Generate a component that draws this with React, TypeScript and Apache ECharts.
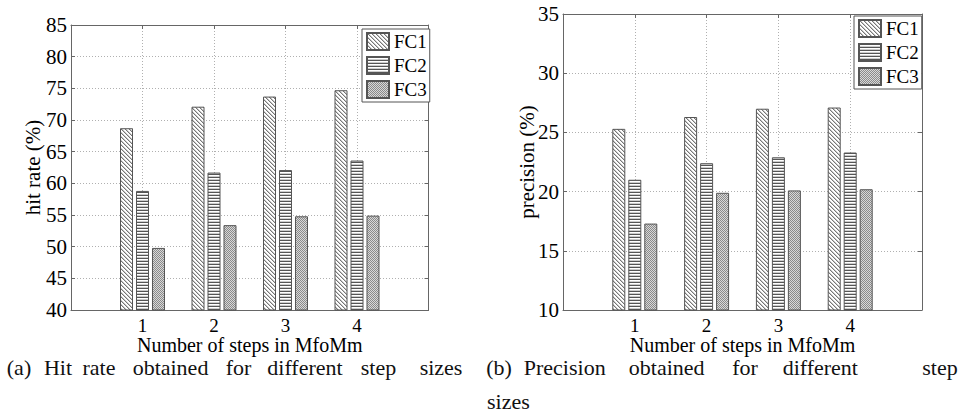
import React, { useEffect, useRef } from "react";
import * as echarts from "echarts";

const categories = ["1", "2", "3", "4"];
const seriesNames = ["FC1", "FC2", "FC3"];
const hitFC1 = [68.7, 72.1, 73.7, 74.7];
const hitFC2 = [58.8, 61.7, 62.1, 63.6];
const hitFC3 = [49.8, 53.4, 54.8, 54.9];
const precFC1 = [25.3, 26.3, 27.0, 27.1];
const precFC2 = [21.0, 22.4, 22.9, 23.3];
const precFC3 = [17.3, 19.9, 20.1, 20.2];
const hitTicks = { min: 40, max: 85, interval: 5 };
const precTicks = { min: 10, max: 35, interval: 5 };
const xTitle = "Number of steps in MfoMm";
const hitTitle = "hit rate (%)";
const precTitle = "precision (%)";
const captionA = ["(a)", "Hit", "rate", "obtained", "for", "different", "step", "sizes"];
const captionB = ["(b)", "Precision", "obtained", "for", "different", "step", "sizes"];

const SERIF = "Liberation Serif";

function makePattern(kind: string) {
  const c = document.createElement("canvas");
  const ctx = c.getContext("2d")!;
  const px = (x: number, y: number, col: string) => {
    ctx.fillStyle = col;
    ctx.fillRect(x, y, 1, 1);
  };
  if (kind === "diag") {
    c.width = 4; c.height = 4;
    ctx.fillStyle = "#ffffff"; ctx.fillRect(0, 0, 4, 4);
    for (let i = 0; i < 4; i++) {
      px(i, i, "#777777");
      px((i + 1) % 4, i, "#c8c8c8");
    }
  } else if (kind === "horiz") {
    c.width = 4; c.height = 3;
    ctx.fillStyle = "#ffffff"; ctx.fillRect(0, 0, 4, 3);
    ctx.fillStyle = "#555555"; ctx.fillRect(0, 0, 4, 1);
    ctx.fillStyle = "#cccccc"; ctx.fillRect(0, 2, 4, 1);
  } else {
    c.width = 2; c.height = 2;
    px(0, 0, "#8a8a8a"); px(1, 1, "#8a8a8a");
    px(1, 0, "#d8d8d8"); px(0, 1, "#d8d8d8");
  }
  return { image: c.toDataURL(), imageWidth: c.width, imageHeight: c.height, repeat: "repeat" };
}

export default function App() {
  const ref = useRef<HTMLDivElement>(null);
  useEffect(() => {
    if (!ref.current) return;
    const chart = echarts.init(ref.current, null, { renderer: "svg" });
    const patterns = [makePattern("diag"), makePattern("horiz"), makePattern("dots")];
    const padded = ["", ...categories, " "];
    const pad = (arr: number[]) => [null, ...arr, null];
    const axisCol = "#666";
    const gridLine = { show: true, interval: 0, lineStyle: { color: "#b0b0b0", type: [1, 2] as any, width: 1 } };

    const mkX = (gridIndex: number) => [
      {
        type: "category", gridIndex, data: padded, boundaryGap: false, position: "bottom",
        axisLine: { show: true, lineStyle: { color: axisCol } },
        axisTick: { show: true, inside: true, length: 4, interval: 0, lineStyle: { color: axisCol } },
        axisLabel: { interval: 0, fontSize: 19, fontFamily: SERIF, color: "#000", margin: 6, lineHeight: 18 },
        splitLine: gridLine,
        name: xTitle, nameLocation: "middle", nameGap: 25, nameMoveOverlap: false,
        nameTextStyle: { fontSize: 20, fontFamily: SERIF, color: "#000", lineHeight: 19 },
      },
      {
        type: "category", gridIndex, data: padded, boundaryGap: false, position: "top",
        axisLine: { show: true, lineStyle: { color: axisCol } },
        axisTick: { show: true, inside: true, length: 4, interval: 0, lineStyle: { color: axisCol } },
        axisLabel: { show: false }, splitLine: { show: false },
      },
    ];
    const mkY = (gridIndex: number, t: any, name: string, gap: number) => [
      {
        type: "value", gridIndex, min: t.min, max: t.max, interval: t.interval, position: "left",
        axisLine: { show: true, lineStyle: { color: axisCol } },
        axisTick: { show: true, inside: true, length: 4, lineStyle: { color: axisCol } },
        axisLabel: { fontSize: 21, fontFamily: SERIF, color: "#000", margin: 4 },
        splitLine: gridLine,
        name, nameLocation: "middle", nameGap: gap, nameRotate: 90, nameMoveOverlap: false,
        nameTextStyle: { fontSize: 21, fontFamily: SERIF, color: "#000" },
      },
      {
        type: "value", gridIndex, min: t.min, max: t.max, interval: t.interval, position: "right",
        axisLine: { show: true, lineStyle: { color: axisCol } },
        axisTick: { show: true, inside: true, length: 4, lineStyle: { color: axisCol } },
        axisLabel: { show: false }, splitLine: { show: false },
      },
    ];

    const mkSeries = (data: number[][], xIdx: number, yIdx: number) =>
      data.map((d, i) => ({
        type: "bar", name: seriesNames[i], xAxisIndex: xIdx, yAxisIndex: yIdx,
        data: pad(d), barWidth: 13, barGap: "23%",
        itemStyle: { color: patterns[i] as any, borderColor: "#555", borderWidth: 1 },
      }));

    const mkLegend = (left: number, top: number) => ({
      orient: "vertical", left, top, data: seriesNames, selectedMode: false,
      itemWidth: 22, itemHeight: 17, itemGap: 5, padding: [3, 3, 3, 4],
      borderColor: "#555", borderWidth: 1, backgroundColor: "#fff",
      icon: "rect",
      textStyle: { fontSize: 19, fontFamily: SERIF, color: "#000", lineHeight: 17 },
    });

    const capA = [19, 58, 99, 170.5, 238.5, 305, 378.5, 441];
    const capB = [499, 564.7, 666.7, 745, 820.3, 940];
    const words: any[] = [];
    const capStyle = (text: string, align: string) => ({
      text, fontSize: 22, fontFamily: SERIF, fill: "#111", align, verticalAlign: "middle",
    });
    captionA.forEach((w, i) => words.push({ type: "text", x: capA[i], y: 367, style: capStyle(w, "center") }));
    captionB.slice(0, 6).forEach((w, i) => words.push({ type: "text", x: capB[i], y: 367, style: capStyle(w, "center") }));
    words.push({ type: "text", x: 487, y: 401, style: capStyle(captionB[6], "left") });

    chart.setOption({
      animation: false,
      backgroundColor: "#fff",
      grid: [
        { left: 71, top: 25, width: 357.5, height: 285 },
        { left: 563, top: 14, width: 359, height: 296 },
      ],
      xAxis: [...mkX(0), ...mkX(1)],
      yAxis: [...mkY(0, hitTicks, hitTitle, 28), ...mkY(1, precTicks, precTitle, 26)],
      legend: [mkLegend(362, 29), mkLegend(854, 16)],
      series: [
        ...mkSeries([hitFC1, hitFC2, hitFC3], 0, 0),
        ...mkSeries([precFC1, precFC2, precFC3], 2, 2),
      ],
      graphic: words,
    } as any);
    return () => chart.dispose();
  }, []);
  return <div ref={ref} style={{ position: "fixed", left: 0, top: 0, width: 970, height: 414 }} />;
}
